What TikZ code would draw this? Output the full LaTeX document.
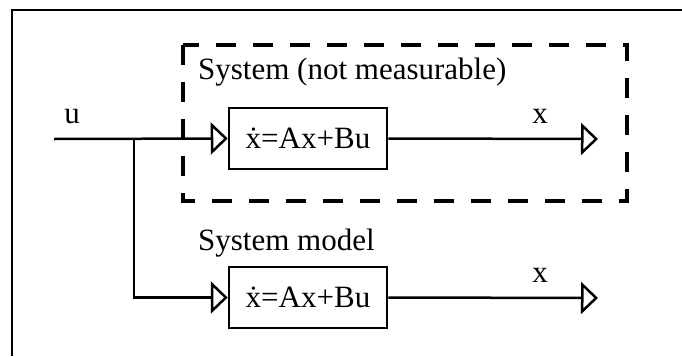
\documentclass[tikz,border=0pt]{standalone}
\usepackage{fontspec}
\setmainfont{Liberation Serif}
\usetikzlibrary{arrows.meta}
\tikzset{
  sig/.style={line width=2.5pt, -{Triangle[open,length=17pt,width=32pt,fill=white]}},
  wire/.style={line width=2.5pt},
  blockbox/.style={draw, line width=2.5pt, minimum width=158pt, minimum height=61pt, inner sep=0pt, font=\fontsize{31}{36}\selectfont},
  lbl/.style={font=\fontsize{31}{36}\selectfont, inner sep=0pt},
  frameline/.style={line width=2.8pt},
  sysbox/.style={line width=3.5pt, dash pattern=on 20pt off 17pt}
}
\begin{document}
\begin{tikzpicture}[x=1pt,y=-1pt]
\useasboundingbox (0,0) rectangle (682,356);
% outer frame (top and left edges only visible)
\draw[frameline] (12,356) -- (12,10) -- (684,10);
% dashed system boundary
\draw[sysbox] (183,45) rectangle (627,201);
\node[lbl, anchor=base west] (syslbl) at (198,79) {System (not measurable)};
\node[lbl, anchor=base west] (modlbl) at (198,250) {System model};
% blocks
\node[blockbox] (sys) at (308,138.5) {\.{x}=Ax+Bu};
\node[blockbox] (mod) at (308,297.5) {\.{x}=Ax+Bu};
% coordinates
\coordinate (in) at (54,139);
\coordinate (j) at (134,139);
\coordinate (out1) at (598,139);
\coordinate (out2) at (598,298);
% connectors
\draw[sig] (in) -- (sys.west);
\draw[sig] (j) |- (mod.west);
\draw[sig] (sys.east) -- (out1);
\draw[sig] (mod.east) -- (out2);
% labels
\node[lbl, anchor=base] (ulbl) at (72,123) {u};
\node[lbl, anchor=base] (x1lbl) at (540,123) {x};
\node[lbl, anchor=base] (x2lbl) at (540,282) {x};
\end{tikzpicture}
\end{document}
